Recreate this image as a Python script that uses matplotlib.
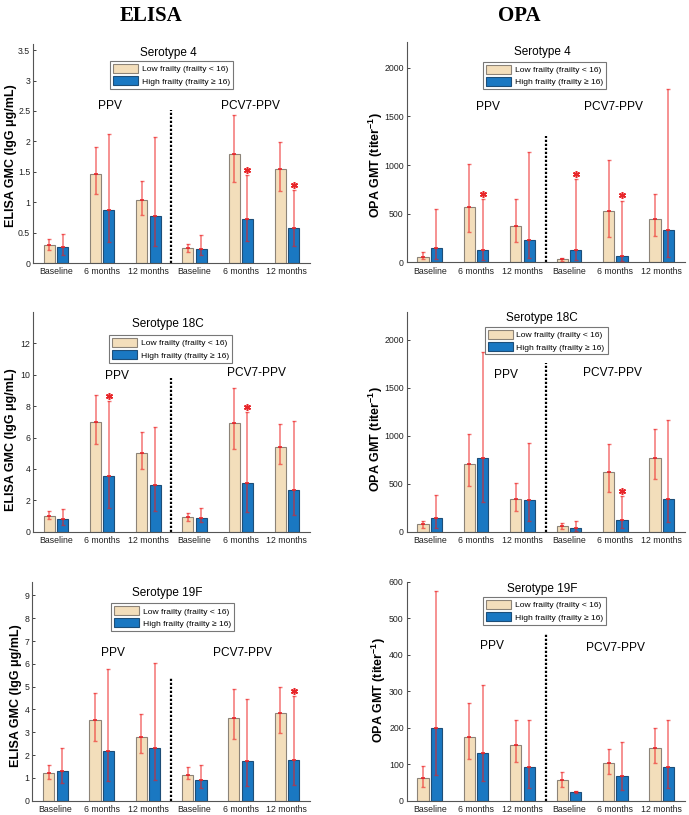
import numpy as np
import matplotlib
matplotlib.use("Agg")
import matplotlib.pyplot as plt
from matplotlib.patches import Patch
from matplotlib.ticker import FormatStrFormatter

plt.rcParams['font.family'] = ['Liberation Sans', 'DejaVu Sans']
plt.rcParams['mathtext.default'] = 'regular'

groups = ['Baseline', '6 months', '12 months', 'Baseline', '6 months', '12 months']
arms = ['PPV', 'PCV7-PPV']
legend_labels = ['Low frailty (frailty < 16)', 'High frailty (frailty \u2265 16)']

# ELISA serotype 4
e4_low = [0.30, 1.47, 1.04, 0.25, 1.80, 1.54]
e4_low_lo = [0.22, 1.13, 0.79, 0.19, 1.33, 1.18]
e4_low_hi = [0.40, 1.91, 1.35, 0.31, 2.43, 1.99]
e4_high = [0.26, 0.88, 0.77, 0.23, 0.73, 0.58]
e4_high_lo = [0.14, 0.35, 0.28, 0.13, 0.37, 0.28]
e4_high_hi = [0.48, 2.12, 2.08, 0.46, 1.45, 1.20]
e4_stars = [4, 5]

# OPA serotype 4
o4_low = [59, 566, 379, 31, 524, 448]
o4_low_lo = [31, 317, 214, 17, 266, 276]
o4_low_hi = [103, 1007, 652, 45, 1048, 707]
o4_high = [152, 124, 231, 128, 69, 334]
o4_high_lo = [35, 25, 41, 20, 14, 60]
o4_high_hi = [548, 652, 1138, 859, 634, 1783]
o4_stars = [1, 3, 4]

# ELISA serotype 18C
e18_low = [1.02, 7.00, 5.03, 0.93, 6.93, 5.37]
e18_low_lo = [0.80, 5.60, 4.00, 0.70, 5.24, 4.29]
e18_low_hi = [1.35, 8.72, 6.33, 1.20, 9.13, 6.84]
e18_high = [0.80, 3.53, 2.95, 0.87, 3.10, 2.68]
e18_high_lo = [0.42, 1.50, 1.30, 0.60, 1.27, 1.06]
e18_high_hi = [1.42, 8.30, 6.65, 1.48, 7.64, 7.08]
e18_stars = [1, 4]

# OPA serotype 18C
o18_low = [77, 704, 341, 59, 620, 767]
o18_low_lo = [42, 477, 220, 28, 418, 547]
o18_low_hi = [111, 1017, 505, 87, 913, 1073]
o18_high = [139, 767, 331, 38, 118, 345]
o18_high_lo = [42, 314, 111, 7, 35, 98]
o18_high_hi = [383, 1871, 923, 111, 373, 1167]
o18_stars = [4]

# ELISA serotype 19F
e19_low = [1.21, 3.52, 2.81, 1.14, 3.61, 3.86]
e19_low_lo = [0.94, 2.62, 2.08, 0.94, 2.69, 2.98]
e19_low_hi = [1.55, 4.72, 3.79, 1.46, 4.88, 5.00]
e19_high = [1.30, 2.20, 2.32, 0.91, 1.73, 1.78]
e19_high_lo = [0.76, 0.86, 0.91, 0.54, 0.66, 0.69]
e19_high_hi = [2.32, 5.77, 6.02, 1.56, 4.46, 4.59]
e19_stars = [5]

# OPA serotype 19F
o19_low = [62, 175, 154, 57, 103, 144]
o19_low_lo = [39, 114, 106, 39, 73, 103]
o19_low_hi = [94, 267, 221, 78, 141, 200]
o19_high = [200, 132, 92, 24, 69, 92]
o19_high_lo = [70, 53, 36, 21, 30, 36]
o19_high_hi = [575, 317, 221, 26, 161, 221]
o19_stars = []

elisa_label = 'ELISA GMC (IgG \u03bcg/mL)'
opa_label = 'OPA GMT (titer$^{-1}$)'

c_low = '#F3DEBB'
c_high = '#1A78C2'
c_err = (0.93, 0.12, 0.12, 0.62)
c_red = '#E8262A'

# panel settings: data + layout
panels = [
    dict(title='Serotype 4', data=(e4_low, e4_low_lo, e4_low_hi, e4_high, e4_high_lo, e4_high_hi), stars=e4_stars,
         ylabel=elisa_label, ylim=3.6, ticks=np.arange(0, 3.51, 0.5), fmt='%g', div=2.52,
         rect=[0.0479, 0.677, 0.402, 0.269], arm_pos=[(2.17, 2.58), (5.21, 2.58)],
         title_y=0.959, leg=(0.278, 0.922), lab=(-0.058, 0.49)),
    dict(title='Serotype 4', data=(o4_low, o4_low_lo, o4_low_hi, o4_high, o4_high_lo, o4_high_hi), stars=o4_stars,
         ylabel=opa_label, ylim=2270, ticks=np.arange(0, 2001, 500), fmt='%g', div=1300,
         rect=[0.590, 0.678, 0.404, 0.271], arm_pos=[(2.25, 1595), (4.96, 1595)],
         title_y=0.953, leg=(0.274, 0.909), lab=(-0.078, 0.44)),
    dict(title='Serotype 18C', data=(e18_low, e18_low_lo, e18_low_hi, e18_high, e18_high_lo, e18_high_hi), stars=e18_stars,
         ylabel=elisa_label, ylim=14, ticks=np.arange(0, 12.1, 2), fmt='%g', div=9.8,
         rect=[0.0479, 0.3476, 0.402, 0.2696], arm_pos=[(2.31, 9.94), (5.33, 10.1)],
         title_y=0.944, leg=(0.274, 0.895), lab=(-0.058, 0.42)),
    dict(title='Serotype 18C', data=(o18_low, o18_low_lo, o18_low_hi, o18_high, o18_high_lo, o18_high_hi), stars=o18_stars,
         ylabel=opa_label, ylim=2290, ticks=np.arange(0, 2001, 500), fmt='%g', div=1760,
         rect=[0.590, 0.3476, 0.404, 0.2696], arm_pos=[(2.64, 1630), (4.94, 1655)],
         title_y=0.973, leg=(0.281, 0.932), lab=(-0.078, 0.42)),
    dict(title='Serotype 19F', data=(e19_low, e19_low_lo, e19_low_hi, e19_high, e19_high_lo, e19_high_hi), stars=e19_stars,
         ylabel=elisa_label, ylim=9.6, ticks=np.arange(0, 9.1, 1), fmt='%g', div=5.44,
         rect=[0.0469, 0.0175, 0.403, 0.2687], arm_pos=[(2.24, 6.46), (5.04, 6.49)],
         title_y=0.95, leg=(0.283, 0.902), lab=(-0.037, 0.48)),
    dict(title='Serotype 19F', data=(o19_low, o19_low_lo, o19_low_hi, o19_high, o19_high_lo, o19_high_hi), stars=o19_stars,
         ylabel=opa_label, ylim=600, ticks=np.arange(0, 601, 100), fmt='%g', div=460,
         rect=[0.590, 0.0175, 0.404, 0.2687], arm_pos=[(2.34, 424), (5.01, 418)],
         title_y=0.967, leg=(0.274, 0.930), lab=(-0.068, 0.506)),
]

fig = plt.figure(figsize=(6.89, 8.15), dpi=100)

x = np.arange(1, len(groups) + 1)
off = 0.145
w = 0.24

for p in panels:
    ax = fig.add_axes(p['rect'])
    low, low_lo, low_hi, high, high_lo, high_hi = [np.array(v, dtype=float) for v in p['data']]

    ax.bar(x - off, low, w, color=c_low, edgecolor='#8C8378', linewidth=0.8, zorder=2)
    ax.bar(x + off, high, w, color=c_high, edgecolor='#1D4E78', linewidth=0.8, zorder=2)

    for xs, m, lo, hi in [(x - off, low, low_lo, low_hi), (x + off, high, high_lo, high_hi)]:
        eb = ax.errorbar(xs, m, yerr=[m - lo, hi - m], fmt='none', ecolor=c_err,
                         elinewidth=1.1, capsize=1.4, capthick=1.0, zorder=3)
        for cl in eb[1]:
            cl.set_color(c_red)
        ax.plot(xs, m, linestyle='none', marker='_', ms=3, mew=1.2, color=c_red, zorder=4)

    for i in p['stars']:
        ax.plot(x[i] + off, high_hi[i] + 0.024 * p['ylim'], linestyle='none',
                marker=(6, 2, 0), ms=5, mew=1.1, color=c_red, zorder=4)

    # dotted separator between PPV and PCV7-PPV
    ax.plot([3.5, 3.5], [0, p['div']], color='black', linestyle=(0, (1, 0.8)), linewidth=1.6, zorder=1)

    for name, (tx, ty) in zip(arms, p['arm_pos']):
        ax.text(tx, ty, name, ha='center', va='center', fontsize=8.6)

    ax.text(0.487, p['title_y'], p['title'], transform=ax.transAxes, ha='center', va='center', fontsize=8.5)

    handles = [Patch(facecolor=c_low, edgecolor='#8C8378', linewidth=0.8),
               Patch(facecolor=c_high, edgecolor='#1D4E78', linewidth=0.8)]
    leg = ax.legend(handles, legend_labels, loc='upper left', bbox_to_anchor=p['leg'], borderaxespad=0,
                    fontsize=6.1, handlelength=3.0, handleheight=1.25, handletextpad=0.4,
                    labelspacing=0.35, borderpad=0.35, fancybox=False, framealpha=1)
    leg.get_frame().set_edgecolor('#777777')
    leg.get_frame().set_linewidth(0.8)

    ax.set_xlim(0.5, 6.5)
    ax.set_ylim(0, p['ylim'])
    ax.set_xticks(x)
    ax.set_xticklabels(groups)
    ax.set_yticks(p['ticks'])
    ax.yaxis.set_major_formatter(FormatStrFormatter(p['fmt']))
    ax.tick_params(axis='x', length=0, labelsize=6.3, pad=3, colors='#222222')
    ax.tick_params(axis='y', direction='in', length=2.5, width=0.6, labelsize=6.3, pad=2, colors='#222222')
    for s in ['top', 'right']:
        ax.spines[s].set_visible(False)
    for s in ['left', 'bottom']:
        ax.spines[s].set_color('#555555')
        ax.spines[s].set_linewidth(0.8)

    ax.set_ylabel(p['ylabel'], fontsize=9, fontweight='bold')
    ax.yaxis.set_label_coords(*p['lab'])

fig.text(151 / 689, 1 - 16 / 815, 'ELISA', ha='center', va='center',
         family='Liberation Serif', fontweight='bold', fontsize=15)
fig.text(519 / 689, 1 - 16 / 815, 'OPA', ha='center', va='center',
         family='Liberation Serif', fontweight='bold', fontsize=15)

fig.savefig('out.png', dpi=100)
